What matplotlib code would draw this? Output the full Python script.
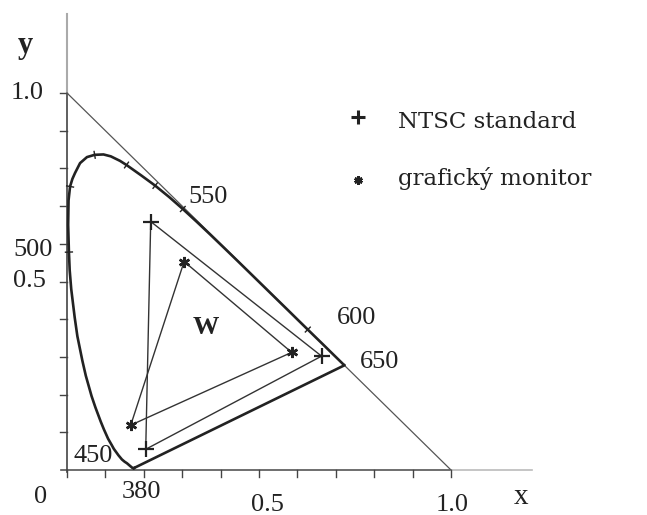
import numpy as np
import matplotlib.pyplot as plt

# spectral locus (wavelength nm, x, y)
wl = [380, 420, 440, 450, 455, 460, 465, 470, 472, 475, 478, 480, 483,
      485, 488, 490, 493, 495, 498, 500, 502, 505, 508, 510, 512, 513,
      515, 517, 520, 523, 525, 528, 530, 535, 540, 545, 550, 555, 560,
      565, 570, 575, 580, 585, 590, 595, 600, 605, 610, 615, 620, 630,
      640, 650]
loc_x = [0.174, 0.171, 0.164, 0.156, 0.150, 0.143, 0.134, 0.122, 0.116,
         0.107, 0.096, 0.088, 0.074, 0.064, 0.049, 0.040, 0.027, 0.020,
         0.011, 0.007, 0.005, 0.003, 0.004, 0.008, 0.014, 0.021, 0.034,
         0.052, 0.072, 0.095, 0.114, 0.138, 0.155, 0.193, 0.2296, 0.2658,
         0.3016, 0.3373, 0.3731, 0.4087, 0.4441, 0.4788, 0.5125, 0.5448,
         0.5752, 0.6029, 0.6270, 0.6482, 0.6658, 0.6801, 0.6915, 0.7079,
         0.7190, 0.7230]
loc_y = [0.005, 0.005, 0.011, 0.018, 0.022, 0.028, 0.039, 0.056, 0.067,
         0.083, 0.108, 0.128, 0.166, 0.196, 0.250, 0.290, 0.355, 0.405,
         0.480, 0.530, 0.578, 0.650, 0.715, 0.752, 0.772, 0.788, 0.814,
         0.830, 0.836, 0.837, 0.832, 0.820, 0.809, 0.7816, 0.7543, 0.7243,
         0.6923, 0.6589, 0.6245, 0.5896, 0.5547, 0.5202, 0.4866, 0.4544,
         0.4242, 0.3965, 0.3725, 0.3514, 0.3340, 0.3197, 0.3083, 0.2920,
         0.2809, 0.2780]
tick_wl = [502, 510, 520, 530, 540, 550, 600]

# primaries: G, R, B
ntsc_x = [0.218, 0.663, 0.205]
ntsc_y = [0.659, 0.302, 0.055]
mon_x = [0.305, 0.585, 0.166]
mon_y = [0.553, 0.312, 0.119]

wl_labels = ["450", "550", "600", "650"]
wl_lab_x = [0.068, 0.367, 0.753, 0.815]
wl_lab_y = [0.037, 0.724, 0.403, 0.286]

dark = "#222222"
serif = "Liberation Serif"

fig = plt.figure(figsize=(6.47, 5.15), dpi=100)
ax = fig.add_axes([0, 0, 1, 1])
ax.set_xlim(-67 / 384, 580 / 384)
ax.set_ylim(-45 / 377, 470 / 377)
ax.axis("off")

# axes
ax.plot([-0.015, 1.0], [0, 0], color="#555555", lw=1.2)
ax.plot([1.0, 1.21], [0, 0], color="#bbbbbb", lw=1.2)
ax.plot([0, 0], [-0.005, 1.0], color="#444444", lw=1.2)
ax.plot([0, 0], [1.0, 1.21], color="#aaaaaa", lw=1.5)
for t in np.arange(0, 1.01, 0.1):
    ax.plot([t, t], [0, -0.018], color="#444444", lw=1.0)
for t in np.arange(0.1, 1.01, 0.1):
    ax.plot([0, -0.018], [t, t], color="#444444", lw=1.0)

# x + y = 1
ax.plot([0, 1], [1, 0], color="#555555", lw=0.9)

# spectral locus with purple line
ax.plot(loc_x + [loc_x[0]], loc_y + [loc_y[0]], color=dark, lw=1.9,
        solid_joinstyle="round")

# small wavelength ticks along the locus
lx, ly = np.array(loc_x), np.array(loc_y)
for w in tick_wl:
    px = np.interp(w, wl, lx)
    py = np.interp(w, wl, ly)
    dx = np.interp(w + 2, wl, lx) - np.interp(w - 2, wl, lx)
    dy = np.interp(w + 2, wl, ly) - np.interp(w - 2, wl, ly)
    n = np.array([-dy, dx]) / np.hypot(dx, dy) * 0.009
    ax.plot([px - n[0], px + n[0]], [py - n[1], py + n[1]], color=dark, lw=1.0)

# NTSC and monitor gamuts
ax.plot(ntsc_x + [ntsc_x[0]], ntsc_y + [ntsc_y[0]], color="#333333", lw=1.0)
ax.plot(ntsc_x, ntsc_y, ls="none", marker="+", ms=11, mew=1.6, color=dark)
ax.plot(mon_x + [mon_x[0]], mon_y + [mon_y[0]], color="#333333", lw=1.0)
ax.plot(mon_x, mon_y, ls="none", marker=(6, 2, 0), ms=8, mew=1.8, color=dark)

# labels
num = dict(family=serif, fontsize=19, color=dark)
ax.text(-0.060, 1.0, "1.0", ha="right", va="center", **num)
ax.text(-0.055, 0.501, "0.5", ha="right", va="center", **num)
ax.text(-0.036, 0.584, "500", ha="right", va="center", **num)
ax.text(-0.070, -0.072, "0", ha="center", va="center", **num)
ax.text(0.193, -0.058, "380", ha="center", va="center", **num)
ax.text(0.523, -0.093, "0.5", ha="center", va="center", **num)
ax.text(1.003, -0.093, "1.0", ha="center", va="center", **num)
for s, x, y in zip(wl_labels, wl_lab_x, wl_lab_y):
    ax.text(x, y, s, ha="center", va="center", **num)
ax.text(0.362, 0.379, "W", ha="center", va="center", family=serif,
        fontsize=19, fontweight="bold", color=dark)
ax.text(-0.109, 1.127, "y", ha="center", va="center", family=serif,
        fontsize=22, fontweight="bold", color=dark)
ax.text(1.182, -0.072, "x", ha="center", va="center", family=serif,
        fontsize=21, color=dark)

# legend
ax.plot([(358 - 67) / 384], [(470 - 117) / 377], marker="+", ms=10, mew=2.2,
        color=dark)
ax.plot([(358 - 67) / 384], [(470 - 180) / 377], marker=(6, 2, 0), ms=6,
        mew=2.0, color=dark)
leg = dict(family="DejaVu Serif", fontsize=16.5, color=dark, ha="left",
           va="baseline")
ax.text((398 - 67) / 384, (470 - 128) / 377, "NTSC standard", **leg)
ax.text((398 - 67) / 384, (470 - 185) / 377, "grafický monitor", **leg)

fig.savefig("out.png", dpi=100)
